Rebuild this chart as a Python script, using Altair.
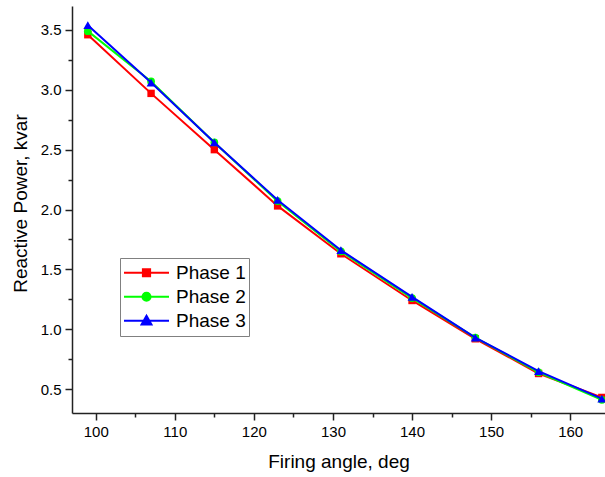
import altair as alt
import pandas as pd

FONT = "Liberation Sans, Arial, sans-serif"

angles = [99, 107, 115, 123, 131, 140, 148, 156, 164]
phase1 = [3.46, 2.97, 2.50, 2.03, 1.63, 1.24, 0.92, 0.63, 0.43]
phase2 = [3.49, 3.07, 2.56, 2.07, 1.65, 1.26, 0.93, 0.64, 0.41]
phase3 = [3.54, 3.06, 2.56, 2.08, 1.66, 1.27, 0.93, 0.65, 0.42]
names = ["Phase 1", "Phase 2", "Phase 3"]
colors = ["#FF0000", "#00FF00", "#0000FF"]
shapes = ["square", "circle", "triangle-up"]
sizes = [55, 60, 80]

# legend glyphs: line segment with marker (custom paths in [-1,1] box)
legend_paths = [
    "M-1,0H1M-0.16,-0.16H0.16V0.16H-0.16Z",
    "M-1,0H1M-0.18,0A0.18,0.18,0,1,1,0.18,0A0.18,0.18,0,1,1,-0.18,0Z",
    "M-1,0H1M0,-0.22L0.22,0.17L-0.22,0.17Z",
]

rows = []
for name, vals in zip(names, [phase1, phase2, phase3]):
    for a, v in zip(angles, vals):
        rows.append({"angle": a, "power": v, "Phase": name})
df = pd.DataFrame(rows)

x_ticks = [100 + 5 * i for i in range(13)]
y_ticks = [0.5 + 0.25 * i for i in range(13)]

x_enc = alt.X(
    "angle:Q",
    scale=alt.Scale(domain=[97, 164.4], nice=False, zero=False),
    axis=alt.Axis(
        title="Firing angle, deg",
        values=x_ticks,
        labelExpr="datum.value % 10 === 0 ? datum.label : ''",
        tickSize={"condition": {"test": "datum.value % 10 === 0", "value": 7}, "value": 4},
        labelPadding=4,
        titlePadding=13,
        labelFlush=False,
    ),
)
y_enc = alt.Y(
    "power:Q",
    scale=alt.Scale(domain=[0.3, 3.7], nice=False, zero=False),
    axis=alt.Axis(
        title="Reactive Power, kvar",
        values=y_ticks,
        format=".1f",
        labelExpr="(datum.value * 2) % 1 === 0 ? datum.label : ''",
        tickSize={"condition": {"test": "(datum.value * 2) % 1 === 0", "value": 7}, "value": 4},
        labelPadding=4,
        titlePadding=10,
        titleY=197,
        labelFlush=False,
    ),
)

layers = []
for name, col, shp, sz in zip(names, colors, shapes, sizes):
    base = alt.Chart(df).transform_filter(alt.datum.Phase == name)
    layers.append(base.mark_line(color=col, strokeWidth=2).encode(x=x_enc, y=y_enc))
    layers.append(
        base.mark_point(shape=shp, color=col, filled=True, opacity=1, size=sz).encode(x=x_enc, y=y_enc)
    )

leg = alt.Legend(
    title=None,
    orient="none",
    legendX=48,
    legendY=252,
    padding=3,
    strokeColor="#808080",
    fillColor="white",
    symbolSize=2025,
    symbolStrokeWidth=2,
    labelFontSize=19,
    labelFont=FONT,
    labelColor="black",
    labelOffset=6,
    clipHeight=23.5,
    rowPadding=0,
)
legend_layer = (
    alt.Chart(df)
    .transform_filter("false")
    .mark_point(filled=True, strokeWidth=2, opacity=1)
    .encode(
        x=x_enc,
        y=y_enc,
        fill=alt.Fill("Phase:N", scale=alt.Scale(domain=names, range=colors), legend=leg),
        stroke=alt.Stroke("Phase:N", scale=alt.Scale(domain=names, range=colors), legend=leg),
        shape=alt.Shape("Phase:N", scale=alt.Scale(domain=names, range=legend_paths), legend=leg),
    )
)

chart = (
    alt.layer(*layers, legend_layer)
    .properties(
        width=533,
        height=407,
        background="white",
        autosize=alt.AutoSizeParams(type="none"),
        padding={"left": 72, "top": 6, "right": 0, "bottom": 64},
    )
    .configure_view(stroke=None)
    .configure_axis(
        grid=False,
        domainColor="#222222",
        domainWidth=1.5,
        tickColor="#222222",
        tickWidth=1.5,
        labelFont=FONT,
        labelFontSize=15,
        labelColor="black",
        titleFont=FONT,
        titleFontSize=19,
        titleFontWeight="normal",
        titleColor="black",
    )
)

chart.save("out.html", embed_options={"renderer": "svg", "actions": False})
